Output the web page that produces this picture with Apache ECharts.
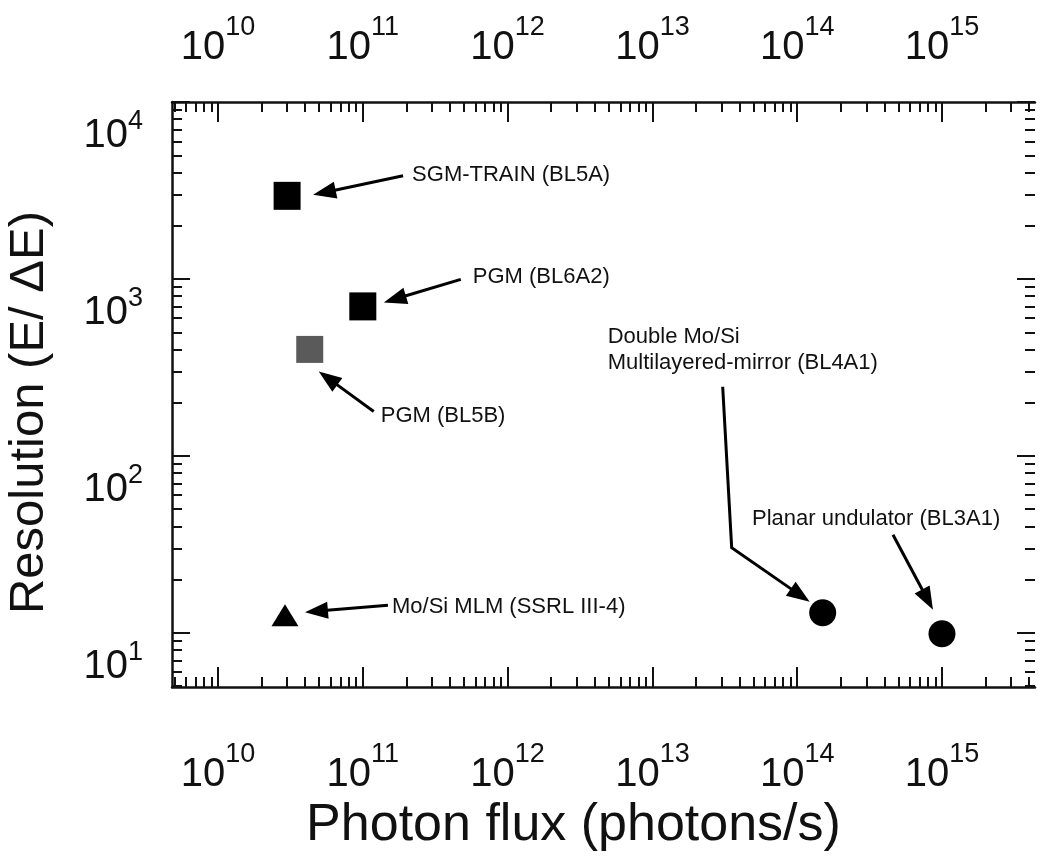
<!DOCTYPE html>
<html>
<head>
<meta charset="utf-8">
<title>Resolution vs photon flux</title>
<script src="https://cdn.jsdelivr.net/npm/echarts@6/dist/echarts.min.js"></script>
<style>
  html, body { margin: 0; padding: 0; background: #fff; }
  #chart { width: 1040px; height: 858px; }
</style>
</head>
<body>
<div id="chart"></div>
<script>
// beamline / source names, as written on the figure
const sources = [
  'SGM-TRAIN (BL5A)',
  'PGM (BL6A2)',
  'PGM (BL5B)',
  'Mo/Si MLM (SSRL III-4)',
  'Double Mo/Si\nMultilayered-mirror (BL4A1)',
  'Planar undulator (BL3A1)'
]
// photons/s
const photonFlux = [3.0e10, 1.0e11, 4.3e10, 2.9e10, 1.5e14, 1.0e15]
// E / dE
const resolution = [2950, 700, 400, 12.6, 13, 9.9]

// decade tick labels (exponents)
const fluxDecades = [10, 11, 12, 13, 14, 15]
const resDecades = [1, 2, 3, 4]
// axis extents
const fluxRange = [4.81e9, 4.39e15]
const resRange = [4.95, 1e4]

const lg = Math.log10
const FONT = '"Liberation Sans", Arial, sans-serif'
const INK = '#111'

// marker look per source
const markers = [
  { symbol: 'rect', size: [27, 28], color: '#000' },
  { symbol: 'rect', size: [27, 28], color: '#000' },
  { symbol: 'rect', size: [27, 27], color: '#5a5a5a' },
  { symbol: 'triangle', size: [27, 22], color: '#000' },
  { symbol: 'circle', size: 27, color: '#000' },
  { symbol: 'circle', size: 27, color: '#000' }
]
// callout layout, pixel offsets from the marker: text anchor and arrow path (tail ... tip)
const callouts = [
  { text: [125, -21], path: [[116, -20], [26, -1]] },
  { text: [110, -29], path: [[98, -27], [21, -4]] },
  { text: [71, 67], path: [[64, 62], [9, 22]] },
  { text: [107, -8], path: [[103, -10], [20, -3]] },
  { text: [-215, -263], path: [[-100, -226], [-91, -65], [-13, -11]] },
  { text: [-190, -115], path: [[-49, -99], [-9, -24]] }
]

const minorTicks = (lo, hi) => {
  const out = []
  for (let d = Math.floor(lo); d <= Math.ceil(hi); d++) {
    for (let k = 2; k <= 9; k++) {
      const v = d + lg(k)
      if (v > lo && v < hi) out.push(v)
    }
  }
  return out
}

const xMin = lg(fluxRange[0]), xMax = lg(fluxRange[1])
const yMin = lg(resRange[0]), yMax = lg(resRange[1])
const xMinor = minorTicks(xMin, xMax)
const yMinor = minorTicks(yMin, yMax)

// "10" + raised exponent; the padding pair sets how high the exponent sits
const pow10 = v => '{b|10}{s|' + Math.round(v) + '}'
const powRich = lift => ({
  b: { fontSize: 40, fontFamily: FONT, color: INK, padding: [lift, 0, 0, 0] },
  s: { fontSize: 27, fontFamily: FONT, color: INK, padding: [0, 0, lift, 0] }
})
const tickLine = { color: INK, width: 2 }

const majorAxis = (pos, min, max, values, len, label) => ({
  type: 'value', position: pos, min: min, max: max,
  axisLine: { show: pos !== 'right', lineStyle: { color: INK, width: 2.5 } },
  axisTick: { show: true, inside: true, length: len, customValues: values, lineStyle: tickLine },
  axisLabel: label ? Object.assign({ show: true, customValues: values, formatter: pow10 }, label) : { show: false },
  splitLine: { show: false }
})
const minorAxis = (pos, min, max, values) => ({
  type: 'value', position: pos, min: min, max: max,
  axisLine: { show: false },
  axisTick: { show: true, inside: true, length: 10, customValues: values, lineStyle: tickLine },
  axisLabel: { show: false },
  splitLine: { show: false }
})

const xBottom = majorAxis('bottom', xMin, xMax, fluxDecades, 20, { margin: 48, rich: powRich(20) })
xBottom.name = 'Photon flux (photons/s)'
xBottom.nameLocation = 'middle'
xBottom.nameGap = 113
xBottom.nameTextStyle = { fontSize: 52, fontFamily: FONT, color: INK, padding: [0, 60, 0, 0] }

const yLeft = majorAxis('left', yMin, yMax, resDecades, 18,
  { margin: 29, align: 'right', verticalAlign: 'top', rich: powRich(14) })
yLeft.name = 'Resolution (E/ \u0394E)'
yLeft.nameLocation = 'middle'
yLeft.nameGap = 118
yLeft.nameTextStyle = { fontSize: 49, fontFamily: FONT, color: INK, padding: [0, 36, 0, 0] }

const chart = echarts.init(document.getElementById('chart'), null, { renderer: 'canvas' })

chart.setOption({
  animation: false,
  backgroundColor: '#fff',
  grid: { left: 172, right: 5, top: 102, bottom: 171, containLabel: false, outerBoundsMode: 'none' },
  xAxis: [
    xBottom,
    minorAxis('bottom', xMin, xMax, xMinor),
    majorAxis('top', xMin, xMax, fluxDecades, 20, { margin: 34, rich: powRich(20) }),
    minorAxis('top', xMin, xMax, xMinor)
  ],
  yAxis: [
    yLeft,
    minorAxis('left', yMin, yMax, yMinor),
    majorAxis('right', yMin, yMax, resDecades, 18, null),
    minorAxis('right', yMin, yMax, yMinor)
  ],
  series: [
    {
      type: 'custom',
      xAxisIndex: 0,
      yAxisIndex: 0,
      clip: false,
      silent: true,
      data: photonFlux.map((f, i) => [lg(f), lg(resolution[i]), i]),
      renderItem: (params, api) => {
        const i = api.value(2)
        const c = api.coord([api.value(0), api.value(1)])
        const co = callouts[i]
        const pts = co.path.map(d => [c[0] + d[0], c[1] + d[1]])
        const tip = pts[pts.length - 1]
        const prev = pts[pts.length - 2]
        const len = Math.hypot(tip[0] - prev[0], tip[1] - prev[1])
        const ux = (tip[0] - prev[0]) / len, uy = (tip[1] - prev[1]) / len
        const L = 23, W = 8.5
        const base = [tip[0] - ux * L, tip[1] - uy * L]
        const line = pts.slice(0, -1).concat([[tip[0] - ux * L * 0.7, tip[1] - uy * L * 0.7]])
        return {
          type: 'group',
          children: [
            { type: 'polyline', shape: { points: line }, style: { stroke: '#000', lineWidth: 3, fill: null } },
            { type: 'polygon', shape: { points: [tip, [base[0] - uy * W, base[1] + ux * W], [base[0] + uy * W, base[1] - ux * W]] }, style: { fill: '#000' } },
            {
              type: 'text', x: c[0] + co.text[0], y: c[1] + co.text[1],
              style: { text: sources[i], fontSize: 22, fontFamily: FONT, fill: INK, align: 'left', verticalAlign: 'middle', lineHeight: 26 }
            }
          ]
        }
      }
    },
    {
      type: 'scatter',
      xAxisIndex: 0,
      yAxisIndex: 0,
      data: photonFlux.map((f, i) => ({
        value: [lg(f), lg(resolution[i])],
        name: sources[i],
        symbol: markers[i].symbol,
        symbolSize: markers[i].size,
        itemStyle: { color: markers[i].color, opacity: 1 }
      }))
    }
  ]
})
</script>
</body>
</html>
